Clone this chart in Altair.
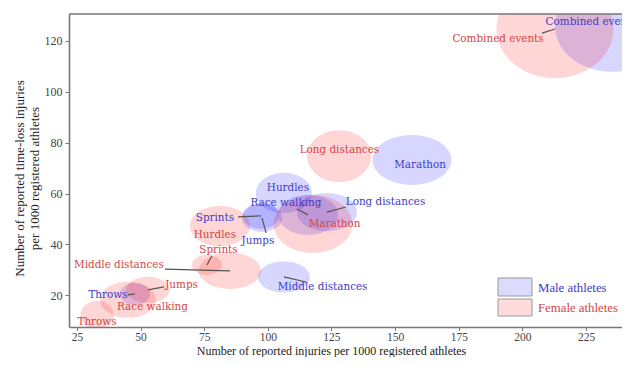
import altair as alt
import numpy as np
import pandas as pd

events = ["Combined events", "Marathon", "Long distances", "Middle distances",
          "Sprints", "Hurdles", "Jumps", "Throws", "Race walking"]

# Male athletes (injuries per 1000 athletes, time-loss injuries per 1000 athletes)
male_x = [235.2, 156.6, 123.2, 106.3, 97.3, 106.3, 97.7, 47.8, 115.8]
male_y = [125.6, 73.2, 52.7, 27.2, 51.2, 60.2, 50.4, 20.5, 51.6]
male_rx = [22.4, 15.5, 11.8, 10.2, 7.1, 11.0, 7.9, 5.9, 11.8]
male_ry = [17.7, 9.8, 7.5, 6.1, 5.1, 7.9, 5.5, 4.3, 7.9]
male_label_x = [227.0, 159.8, 146.2, 121.5, 79.2, 107.9, 96.1, 37.2, 107.1]
male_label_y = [127.5, 71.2, 56.7, 23.3, 50.4, 62.2, 41.4, 20.1, 56.3]
male_line_x = [None, None, 130.7, 115.0, 88.3, None, 99.3, 45.0, 111.4]
male_line_y = [None, None, 54.7, 25.2, 50.8, None, 44.5, 20.1, 53.9]

# Female athletes
female_x = [212.8, 117.7, 128.0, 85.1, 76.1, 81.2, 52.9, 32.9, 45.0]
female_y = [124.7, 48.0, 74.7, 29.6, 31.9, 47.2, 22.1, 12.3, 18.2]
female_rx = [23.0, 15.5, 12.6, 12.2, 5.9, 11.8, 8.6, 6.5, 11.0]
female_ry = [19.3, 11.4, 10.2, 7.1, 3.9, 7.9, 5.1, 5.5, 7.1]
female_label_x = [190.4, 126.2, 128.1, 41.5, 80.6, 79.2, 66.1, 32.9, 54.7]
female_label_y = [120.8, 48.0, 77.1, 31.9, 37.8, 43.7, 24.1, 9.5, 15.4]
female_line_x = [207.7, None, None, 59.6, 78.0, None, 59.2, None, None]
female_line_y = [123.1, None, None, 30.3, 35.5, None, 23.3, None, None]

x_ticks = [25, 50, 75, 100, 125, 150, 175, 200, 225]
y_ticks = [20, 40, 60, 80, 100, 120]
x_domain = [21.9, 239.1]
y_domain = [7.5, 130.6]

W, H = 553, 313
kx = W / (x_domain[1] - x_domain[0])

MALE_FILL, FEMALE_FILL = "blue", "red"
MALE_TEXT, FEMALE_TEXT = "#3c3cc8", "#d24646"
SERIF = "Liberation Serif"
LABEL_FONT = "DejaVu Serif"


def ellipse_path(ratio, n=48):
    t = np.linspace(0, 2 * np.pi, n, endpoint=False)
    pts = [f"{np.cos(a):.4f} {ratio * np.sin(a):.4f}" for a in t]
    return "M " + " L ".join(pts) + " Z"


def frame(sex, xs, ys, rxs, rys, lxs, lys, sxs, sys_):
    d = pd.DataFrame({
        "event": events, "sex": sex, "x": xs, "y": ys, "rx": rxs, "ry": rys,
        "lx": lxs, "ly": lys, "sx": sxs, "sy": sys_,
    })
    d["rx2"] = d["rx"] ** 2
    d["path"] = [ellipse_path(b / a) for a, b in zip(d["rx"], d["ry"])]
    return d


male = frame("Male", male_x, male_y, male_rx, male_ry, male_label_x, male_label_y, male_line_x, male_line_y)
female = frame("Female", female_x, female_y, female_rx, female_ry, female_label_x, female_label_y, female_line_x, female_line_y)

xscale = alt.Scale(domain=x_domain, nice=False, zero=False)
yscale = alt.Scale(domain=y_domain, nice=False, zero=False)
size_scale = alt.Scale(type="linear", domain=[0, 600], range=[0, 600 * (2 * kx) ** 2])

xaxis = alt.Axis(values=x_ticks, title="Number of reported injuries per 1000 registered athletes",
                 titleY=27.5, titleX=262, titleBaseline="alphabetic", titleFontSize=12,
                 labelPadding=1, labelFontSize=11.5, tickSize=3.5)
yaxis = alt.Axis(values=y_ticks, title=["Number of reported time-loss injuries", "per 1000 registered athletes"],
                 titleX=-50, titleY=164, titleAngle=-90, titleBaseline="middle", titleAlign="center")


def ellipses(d, col):
    return alt.Chart(d).mark_point(filled=True, opacity=0.16, clip=True, strokeWidth=0).encode(
        x=alt.X("x:Q", scale=xscale, axis=xaxis),
        y=alt.Y("y:Q", scale=yscale, axis=yaxis),
        shape=alt.Shape("path:N", scale=None),
        size=alt.Size("rx2:Q", scale=size_scale, legend=None),
        color=alt.value(col),
    )


def leaders(d):
    return alt.Chart(d.dropna(subset=["sx"])).mark_rule(color="#555555", strokeWidth=1.2).encode(
        x="sx:Q", y="sy:Q", x2="x:Q", y2="y:Q")


def labels(d, col):
    return alt.Chart(d).mark_text(font=LABEL_FONT, fontSize=10.4, baseline="middle", align="center").encode(
        x="lx:Q", y="ly:Q", text="event:N", color=alt.value(col))


one = pd.DataFrame({"k": [0]})
top_line = alt.Chart(one).mark_rule(color="#777777", strokeWidth=1.6).encode(
    x=alt.value(0), x2=alt.value(W), y=alt.value(0))

leg_male_box = alt.Chart(one).mark_rect(fill=MALE_FILL, fillOpacity=0.14, stroke="#999999", strokeWidth=1).encode(
    x=alt.value(429), x2=alt.value(463), y=alt.value(264), y2=alt.value(282))
leg_female_box = alt.Chart(one).mark_rect(fill=FEMALE_FILL, fillOpacity=0.14, stroke="#999999", strokeWidth=1).encode(
    x=alt.value(429), x2=alt.value(463), y=alt.value(285), y2=alt.value(302))
leg_male_txt = alt.Chart(one).mark_text(font=SERIF, fontSize=12.8, align="left", baseline="middle",
                                        color=MALE_TEXT, text="Male athletes").encode(
    x=alt.value(469), y=alt.value(274))
leg_female_txt = alt.Chart(one).mark_text(font=SERIF, fontSize=12.8, align="left", baseline="middle",
                                          color=FEMALE_TEXT, text="Female athletes").encode(
    x=alt.value(469), y=alt.value(294))

chart = alt.layer(
    ellipses(male, MALE_FILL), ellipses(female, FEMALE_FILL),
    leaders(male), leaders(female),
    labels(male, MALE_TEXT), labels(female, FEMALE_TEXT),
    top_line,
    leg_male_box, leg_female_box, leg_male_txt, leg_female_txt,
).properties(
    width=W, height=H,
    padding={"left": 61, "top": 6, "right": 0, "bottom": 30},
    autosize=alt.AutoSizeParams(type="none"),
).configure_view(stroke=None).configure_axis(
    grid=False, labelFont=SERIF, labelFontSize=12, labelColor="#444444",
    titleFont=SERIF, titleFontSize=13, titleFontWeight="normal", titleColor="#222222",
    domainColor="#777777", domainWidth=1.6, tickColor="#777777", tickSize=4, labelPadding=3,
)

chart.save("out.html", embed_options={"renderer": "svg", "actions": False})
